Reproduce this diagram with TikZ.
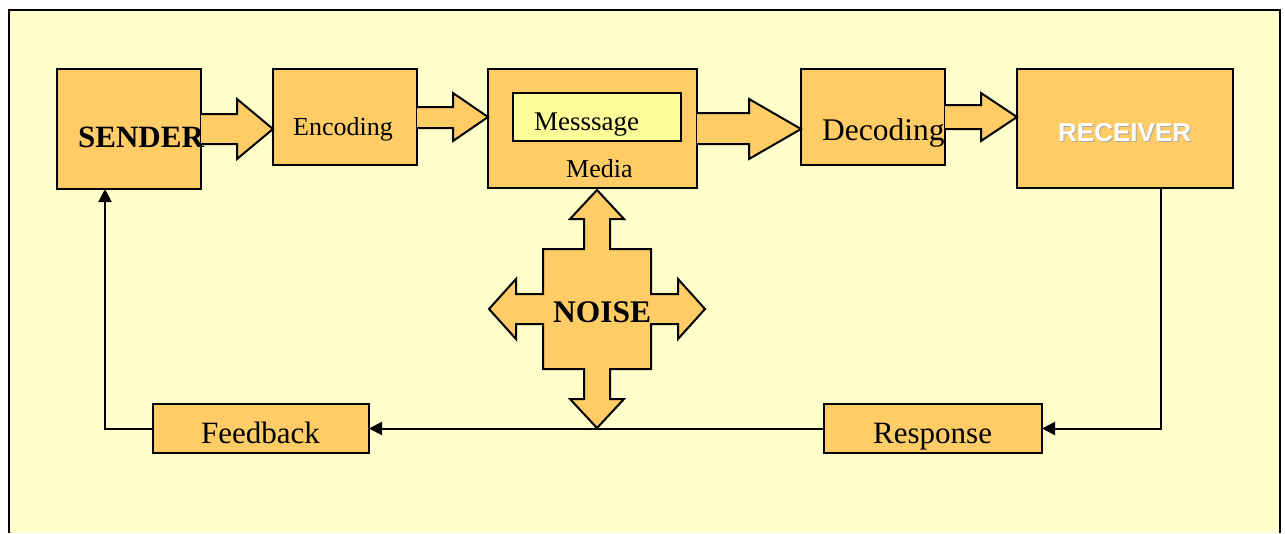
\documentclass[tikz,border=0pt]{standalone}
\usepackage{fontspec}
\setmainfont{Liberation Serif}
\newfontfamily\arialfont{Liberation Sans}
\usetikzlibrary{arrows.meta}
\definecolor{paper}{HTML}{FFFFCC}
\definecolor{boxfill}{HTML}{FFCC66}
\definecolor{msgfill}{HTML}{FFFF99}
\newcommand{\fsz}[1]{\fontsize{#1}{#1}\selectfont}
\begin{document}
\begin{tikzpicture}[x=1pt, y=-1pt,
	box/.style={draw=black, line width=2pt, fill=boxfill, inner sep=0pt, outer sep=0pt, anchor=north west},
	blockarrow/.style={fill=boxfill, draw=black, line width=2pt, line join=miter},
	txt/.style={anchor=base west, inner sep=0pt, font=\fsz{26}},
	conn/.style={line width=2pt, -{Triangle[length=13pt, width=13pt]}}]
	\useasboundingbox (0,0) rectangle (1285,533);
	% Frame
	\fill [white] (0,0) rectangle (1285,533);
	\fill [paper] (9,10) rectangle (1280,533);
	\draw [line width=2pt] (9,533) -- (9,10) -- (1280,10) -- (1280,533);
	% Boxes
	\node [box, minimum width=144, minimum height=120] (sender) at (57,69) {};
	\node [box, minimum width=144, minimum height=96] (encoding) at (273,69) {};
	\node [box, minimum width=209, minimum height=119] (media) at (488,69) {};
	\node [box, fill=msgfill, minimum width=168, minimum height=48] (message) at (513,93) {};
	\node [box, minimum width=144, minimum height=96] (decoding) at (801,69) {};
	\node [box, minimum width=216, minimum height=119] (receiver) at (1017,69) {};
	\node [box, minimum width=218, minimum height=49] (response) at (824,404) {};
	\node [box, minimum width=216, minimum height=49] (feedback) at (153,404) {};
	% Block arrows
	\filldraw [blockarrow] (sender.east |- 0,114) -- (237,114) -- (237,99) -- (encoding.west |- 0,129)
		-- (237,159) -- (237,144) -- (sender.east |- 0,144);
	\filldraw [blockarrow] (encoding.east |- 0,107) -- (453,107) -- (453,93) -- (media.west |- 0,117)
		-- (453,141) -- (453,128) -- (encoding.east |- 0,128);
	\filldraw [blockarrow] (media.east |- 0,113) -- (749,113) -- (749,99) -- (decoding.west |- 0,129)
		-- (749,159) -- (749,144) -- (media.east |- 0,144);
	\filldraw [blockarrow] (decoding.east |- 0,105) -- (981,105) -- (981,93) -- (receiver.west |- 0,117)
		-- (981,141) -- (981,129) -- (decoding.east |- 0,129);
	% Noise
	\coordinate (noise) at (597,309);
	\begin{scope}[shift={(noise)}]
		\filldraw [blockarrow] (0,-119) -- (27,-90) -- (13,-90) -- (13,-60) -- (54,-60) -- (54,-15)
			-- (81,-15) -- (81,-30) -- (108,0) -- (81,30) -- (81,15) -- (54,15) -- (54,60) -- (13,60)
			-- (13,90) -- (27,90) -- (0,119) -- (-27,90) -- (-13,90) -- (-13,60) -- (-54,60) -- (-54,15)
			-- (-81,15) -- (-81,30) -- (-108,0) -- (-81,-30) -- (-81,-15) -- (-54,-15) -- (-54,-60)
			-- (-13,-60) -- (-13,-90) -- (-27,-90) -- cycle;
	\end{scope}
	% Labels
	\node [txt, font=\bfseries\fsz{31}] (sendertxt) at (78,147) {SENDER};
	\node [txt] (encodingtxt) at (293,135) {Encoding};
	\node [txt, font=\fsz{27}] (messagetxt) at (534,130) {Messsage};
	\node [txt] (mediatxt) at (566,177) {Media};
	\node [txt, font=\fsz{31.5}] (decodingtxt) at (822,140) {Decoding};
	\node [txt, font=\arialfont\bfseries\fsz{26}, text=gray!70] (receivershadow) at (1059,142) {RECEIVER};
	\node [txt, font=\arialfont\bfseries\fsz{26}, text=white] (receivertxt) at (1058,141) {RECEIVER};
	\node [txt, font=\bfseries\fsz{31.5}] (noisetxt) at (553,322) {NOISE};
	\node [txt, font=\fsz{31}] (feedbacktxt) at (201,443) {Feedback};
	\node [txt, font=\fsz{31}] (responsetxt) at (873,443) {Response};
	% Connectors
	\draw [conn] (receiver.south -| 1161,0) |- (response.east);
	\draw [conn] (response.west) -- (feedback.east);
	\draw [conn] (feedback.west) -| (sender.south -| 105,0);
\end{tikzpicture}
\end{document}
